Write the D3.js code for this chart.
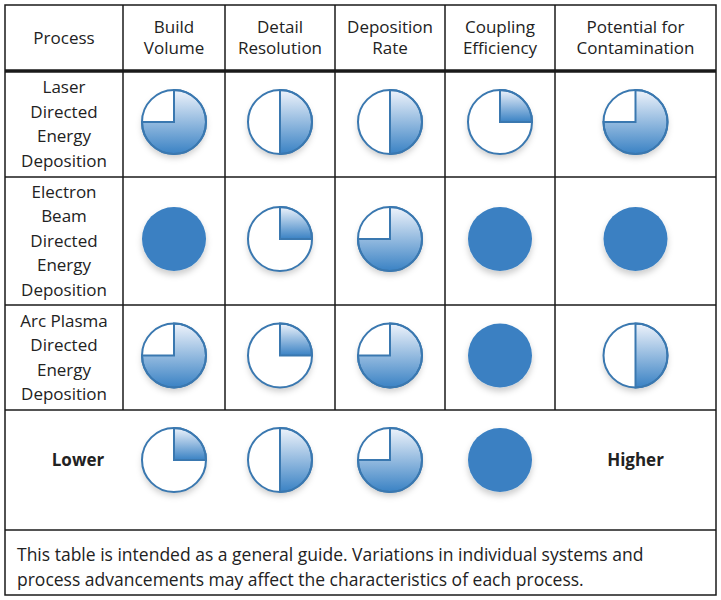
<!DOCTYPE html>
<html><head><meta charset="utf-8">
<script src="https://cdn.jsdelivr.net/npm/d3@7"></script>
<style>body{margin:0;background:#fff}</style>
</head><body><div id="chart"></div>
<script>
    // Table content
    const columns = ["Process", "Build\nVolume", "Detail\nResolution", "Deposition\nRate", "Coupling\nEfficiency", "Potential for\nContamination"];
    const processes = ["Laser\nDirected\nEnergy\nDeposition", "Electron\nBeam\nDirected\nEnergy\nDeposition", "Arc Plasma\nDirected\nEnergy\nDeposition"];
    // ratings in quarters (1..4)
    const ratings = [
        [3, 2, 2, 1, 3],
        [4, 1, 3, 4, 4],
        [3, 1, 3, 4, 2]
    ];
    const legendLevels = [1, 2, 3, 4];
    const legendLow = "Lower", legendHigh = "Higher";
    const footnote = ["This table is intended as a general guide. Variations in individual systems and",
                      "process advancements may affect the characteristics of each process."];

    const width = 721, height = 600;
    const colX = [5, 123, 225, 335, 445, 555, 716];
    const rowY = [5, 71, 177, 305, 410, 530, 595];

    const svg = d3.select("#chart").append("svg").attr("width", width).attr("height", height)
        .style("font-family", "'Open Sans', 'DejaVu Sans', sans-serif");

    const defs = svg.append("defs");
    const grad = defs.append("linearGradient").attr("id", "g").attr("x1", 0).attr("y1", 0).attr("x2", 0).attr("y2", 1);
    grad.append("stop").attr("offset", "0%").attr("stop-color", "#eef3fb");
    grad.append("stop").attr("offset", "100%").attr("stop-color", "#3a82c4");
    const f = defs.append("filter").attr("id", "sh").attr("x", "-30%").attr("y", "-30%").attr("width", "160%").attr("height", "170%");
    f.append("feDropShadow").attr("dx", 0).attr("dy", 4).attr("stdDeviation", 3).attr("flood-color", "#000").attr("flood-opacity", 0.2);

    // grid lines
    const g = svg.append("g").attr("stroke", "#1a1a1a").attr("stroke-width", 1.5);
    g.append("rect").attr("x", 5).attr("y", 5).attr("width", 711).attr("height", 590).attr("fill", "none");
    rowY.slice(1, -1).forEach((y, i) => g.append("line").attr("x1", 5).attr("x2", 716).attr("y1", y).attr("y2", y)
        .attr("stroke-width", i === 0 ? 3.5 : 1.5));
    colX.slice(1, -1).forEach(x => g.append("line").attr("x1", x).attr("x2", x).attr("y1", 5).attr("y2", 410));

    function multiText(x, y, lines, size, lh, weight) {
        const t = svg.append("text").attr("x", x).attr("text-anchor", "middle").attr("font-size", size)
            .attr("font-weight", weight || "normal").attr("fill", "#222");
        lines.forEach((l, i) => t.append("tspan").attr("x", x)
            .attr("y", y + (i - (lines.length - 1) / 2) * lh).attr("dy", "0.35em").text(l));
    }
    const cx = i => (colX[i] + colX[i + 1]) / 2;
    const cy = r => (rowY[r] + rowY[r + 1]) / 2;

    columns.forEach((c, i) => multiText(cx(i), cy(0), c.split("\n"), 17, 21));
    processes.forEach((p, r) => multiText(cx(0), cy(r + 1), p.split("\n"), 17, 24.5));

    const R = 32;
    const arc = d3.arc().innerRadius(0).outerRadius(R);
    function ball(x, y, q) {
        const b = svg.append("g").attr("transform", `translate(${x},${y})`);
        if (q === 4) {
            b.append("circle").attr("r", R).attr("fill", "#3a80c2").attr("filter", "url(#sh)");
            return;
        }
        b.append("circle").attr("r", R).attr("fill", "#fff").attr("filter", "url(#sh)");
        b.append("path").attr("d", arc({startAngle: 0, endAngle: q * Math.PI / 2})).attr("fill", "url(#g)")
            .attr("stroke", "#3a78b0").attr("stroke-width", 2);
        b.append("circle").attr("r", R).attr("fill", "none").attr("stroke", "#3a78b0").attr("stroke-width", 2);
    }
    ratings.forEach((row, r) => row.forEach((q, c) => ball(cx(c + 1), cy(r + 1) - 2, q)));
    legendLevels.forEach((q, i) => ball(cx(i + 1), cy(4) - 10, q));
    multiText(cx(0) + 14, cy(4) - 10, [legendLow], 17, 0, "bold");
    multiText(cx(5), cy(4) - 10, [legendHigh], 17, 0, "bold");

    footnote.forEach((l, i) => svg.append("text").attr("x", 17).attr("y", 561 + i * 25)
        .attr("font-size", 17.5).attr("fill", "#222").text(l));
</script>
</body></html>
